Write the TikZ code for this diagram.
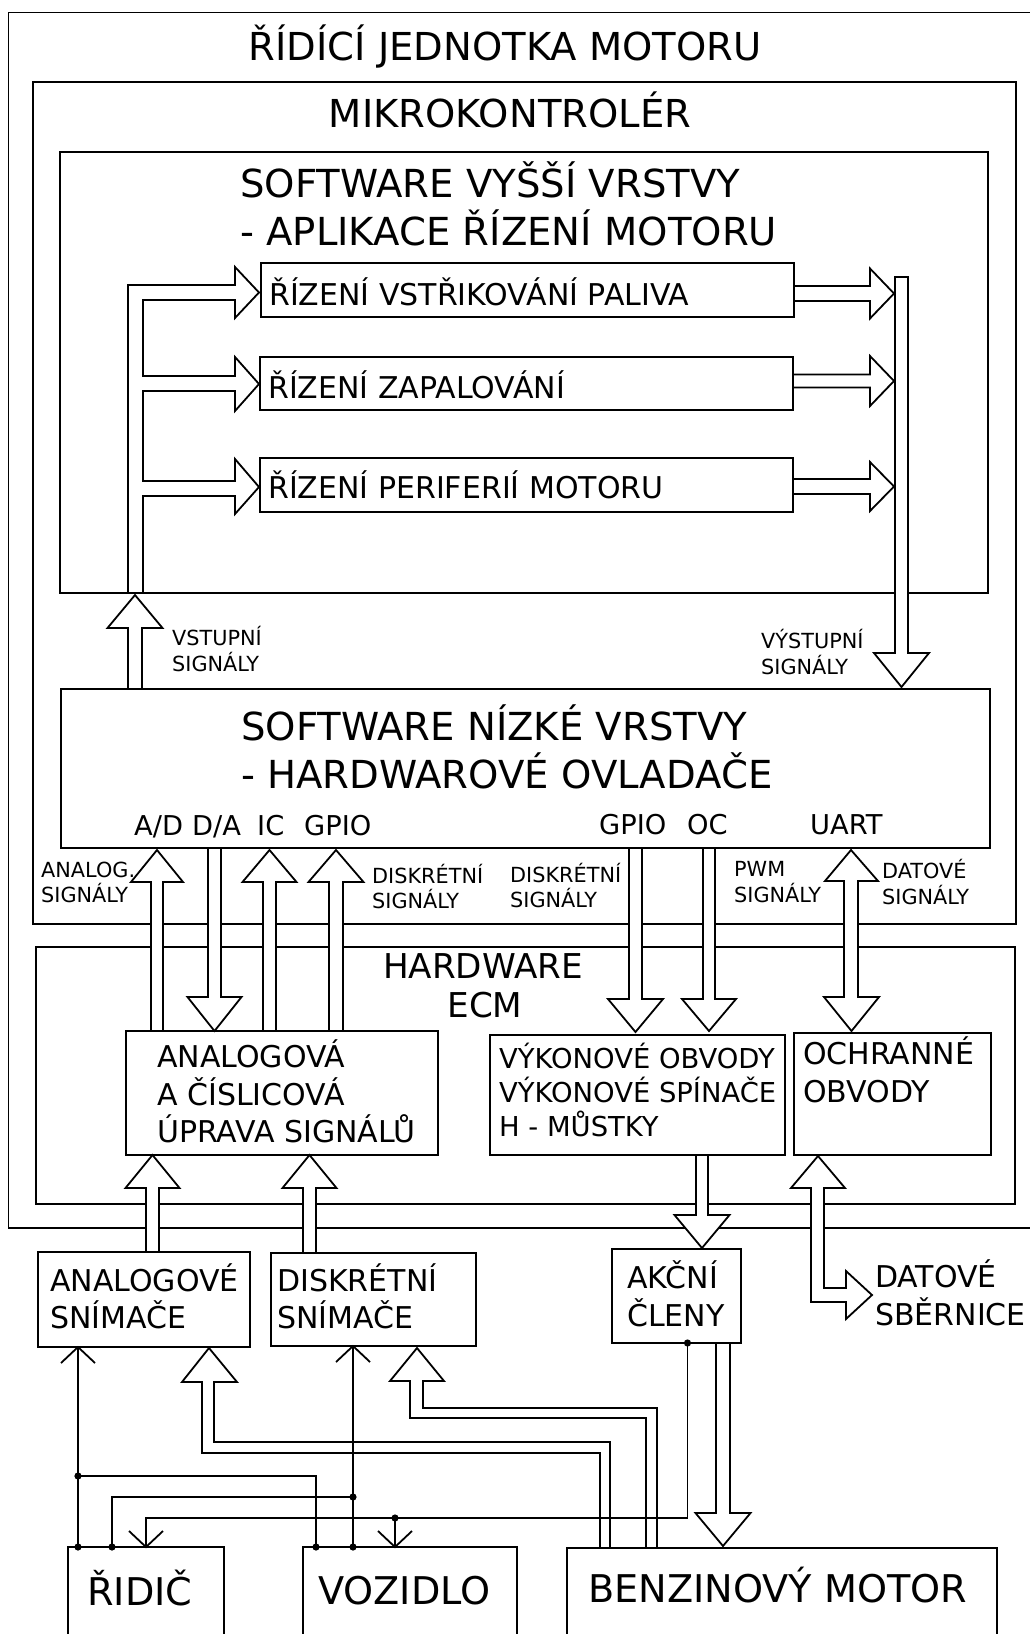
\documentclass[tikz,border=0pt]{standalone}
\usepackage{fontspec}
\setmainfont{DejaVu Sans}
\usetikzlibrary{fit}
\tikzset{
  box/.style={draw, line width=1.8pt, inner sep=0pt},
  frame/.style={draw, line width=1.8pt},
  harrow/.style={draw, fill=white, line width=1.8pt, line join=miter},
  bus/.style={draw, line width=1.8pt, line join=miter},
  wire/.style={draw, line width=1.8pt},
  ttl/.style={anchor=base, inner sep=0pt, font=\fontsize{38.5}{46}\selectfont},
  hdr/.style={anchor=base west, inner sep=0pt, font=\fontsize{38.6}{46}\selectfont},
  hwt/.style={anchor=base, inner sep=0pt, font=\fontsize{34.2}{40}\selectfont},
  blk/.style={anchor=base west, inner sep=0pt, font=\fontsize{30}{35}\selectfont},
  pwr/.style={anchor=base west, inner sep=0pt, font=\fontsize{27.4}{33}\selectfont},
  prt/.style={anchor=base west, inner sep=0pt, font=\fontsize{27.3}{30}\selectfont},
  sml/.style={anchor=base west, inner sep=0pt, font=\fontsize{20.8}{25}\selectfont},
  ext/.style={anchor=base west, inner sep=0pt, font=\fontsize{38.2}{45}\selectfont},
}
% vertical hollow arrow: x, tail y, tip y, shaft half width, head half width, head length
\newcommand\vharrow[6]{%
  \pgfmathsetmacro\hb{#3-#6*sign(#3-#2)}%
  \draw[harrow] (#1-#4,#2) -- (#1-#4,\hb) -- (#1-#5,\hb) -- (#1,#3) -- (#1+#5,\hb) -- (#1+#4,\hb) -- (#1+#4,#2);}
% horizontal hollow arrow: y, tail x, tip x, shaft half width, head half width, head length
\newcommand\hharrow[6]{%
  \pgfmathsetmacro\hb{#3-#6*sign(#3-#2)}%
  \draw[harrow] (#2,#1-#4) -- (\hb,#1-#4) -- (\hb,#1-#5) -- (#3,#1) -- (\hb,#1+#5) -- (\hb,#1+#4) -- (#2,#1+#4);}
% open V tip: tip x, tip y, direction (+1 = pointing up, -1 = pointing down)
\newcommand\vtip[3]{\draw[wire] (#1-17,#2+16*#3) -- (#1,#2) -- (#1+17,#2+16*#3);}
\newcommand\bx[5]{\node[box, fit={(#2,#3) (#4,#5)}] (#1) {};}
\begin{document}
\begin{tikzpicture}[x=1pt,y=-1pt]
\useasboundingbox (0,0) rectangle (1029,1634);

% ---- containers ----
\draw[frame] (1045,12.5) -- (8.5,12.5) -- (8.5,1228) -- (1045,1228);
\bx{mcu}{33}{82}{1016}{924}
\bx{hw}{36}{947}{1015}{1204}
\bx{swhi}{60}{152}{988}{593}

% ---- upper software buses ----
\draw[bus] (128,593) -- (128,285) -- (235,285) -- (235,267) -- (259,292.5) -- (235,318) -- (235,300)
  -- (143,300) -- (143,376) -- (235,376) -- (235,357) -- (259,384) -- (235,411) -- (235,391)
  -- (143,391) -- (143,481) -- (235,481) -- (235,459) -- (259,487) -- (235,514) -- (235,496)
  -- (143,496) -- (143,593);
\draw[harrow] (895,277) -- (908,277) -- (908,653) -- (929,653) -- (901.5,687) -- (874,653) -- (895,653) -- cycle;
\hharrow{293.5}{794}{894}{7.5}{25}{24}
\hharrow{381}{793}{894}{6.5}{25}{24}
\hharrow{486.5}{793}{894}{7.5}{24.5}{24}
\vharrow{135}{688}{595}{7}{27.5}{33}

% ---- port arrows ----
\vharrow{157}{1031}{850}{6}{26}{32}
\vharrow{214.5}{848}{1031}{6.5}{27}{34}
\vharrow{269.5}{1031}{850}{6.5}{27}{32}
\vharrow{336}{1031}{850}{7}{27.5}{32}
\vharrow{635.5}{848}{1032}{6.5}{27.5}{33}
\vharrow{709}{848}{1031}{6}{27}{32}
\draw[harrow] (844,881) -- (825,881) -- (851,850) -- (878,881) -- (858,881) -- (858,997) -- (879,997)
  -- (851.5,1031) -- (824,997) -- (844,997) -- cycle;

% ---- hardware / external arrows ----
\vharrow{152.5}{1252}{1155}{6.5}{27}{33}
\vharrow{309.5}{1253}{1155}{6.5}{27}{33}
\vharrow{702}{1155}{1248}{6}{27.5}{33}
\draw[harrow] (811,1188) -- (791,1188) -- (818,1156) -- (845,1188) -- (824,1188) -- (824,1288) -- (846,1288)
  -- (846,1271) -- (872,1295) -- (846,1319) -- (846,1302) -- (811,1302) -- cycle;
\vharrow{723}{1343}{1546}{7}{27.5}{33}
\draw[harrow] (610,1548) -- (610,1442) -- (214,1442) -- (214,1382) -- (237,1382) -- (209,1348)
  -- (182,1382) -- (202,1382) -- (202,1453) -- (600,1453) -- (600,1548);
\draw[harrow] (657,1548) -- (657,1408) -- (423,1408) -- (423,1381) -- (444,1381) -- (417,1348)
  -- (390,1381) -- (410,1381) -- (410,1418) -- (646,1418) -- (646,1548);

% ---- leaf boxes ----
\bx{fuel}{261}{263}{794}{317}
\bx{ign}{260}{357}{793}{410}
\bx{peri}{260}{458}{793}{512}
\bx{swlo}{61}{689}{990}{848}
\bx{adc}{126}{1031}{438}{1155}
\bx{pow}{490}{1035}{785}{1155}
\bx{prot}{794}{1033}{991}{1155}
\bx{act}{612}{1249}{741}{1343}
\bx{asen}{38}{1252}{250}{1347}
\bx{dsen}{271}{1253}{476}{1346}
\draw[frame] (68,1650) -- (68,1547) -- (224,1547) -- (224,1650);
\draw[frame] (303,1650) -- (303,1547) -- (517,1547) -- (517,1650);
\draw[frame] (567,1650) -- (567,1548) -- (997,1548) -- (997,1650);
\coordinate (ridic) at (146,1547);
\coordinate (vozidlo) at (410,1547);
\coordinate (motor) at (782,1548);

% ---- thin signal wires ----
\draw[wire] (78,1547) -- (78,1347);
\vtip{78}{1347}{1}
\draw[wire] (78,1476) -- (316,1476) -- (316,1547);
\draw[wire] (112,1547) -- (112,1497) -- (353,1497);
\draw[wire] (353,1547) -- (353,1346);
\vtip{353}{1346}{1}
\draw[wire] (687.5,1343) -- (687.5,1518) -- (146,1518) -- (ridic);
\vtip{146}{1547}{-1}
\draw[wire] (395,1518) -- (395,1547);
\vtip{395}{1547}{-1}
\foreach \p in {(78,1547),(78,1476),(112,1547),(316,1547),(353,1547),(353,1497),(395,1518),(687.5,1343)}
  \fill \p circle[radius=3.6pt];

% ---- texts ----
\node[ttl] (t-ecu) at (505,60) {ŘÍDÍCÍ JEDNOTKA MOTORU};
\node[ttl] (t-mcu) at (510,127) {MIKROKONTROLÉR};
\node[hdr] (t-hi1) at (240,197) {SOFTWARE VYŠŠÍ VRSTVY};
\node[hdr] (t-hi2) at (240,245) {- APLIKACE ŘÍZENÍ MOTORU};
\node[blk] (t-fuel) at (269,305) {ŘÍZENÍ VSTŘIKOVÁNÍ PALIVA};
\node[blk] (t-ign) at (268,398) {ŘÍZENÍ ZAPALOVÁNÍ};
\node[blk] (t-peri) at (268,498) {ŘÍZENÍ PERIFERIÍ MOTORU};
\node[sml] (t-in1) at (172,645) {VSTUPNÍ};
\node[sml] (t-in2) at (172,671) {SIGNÁLY};
\node[sml] (t-out1) at (761,648) {VÝSTUPNÍ};
\node[sml] (t-out2) at (761,674) {SIGNÁLY};
\node[hdr] (t-lo1) at (241,740) {SOFTWARE NÍZKÉ VRSTVY};
\node[hdr] (t-lo2) at (241,788) {- HARDWAROVÉ OVLADAČE};
\node[prt] (p-ad) at (134,835) {A/D};
\node[prt] (p-da) at (192,835) {D/A};
\node[prt] (p-ic) at (257,835) {IC};
\node[prt] (p-gpio1) at (304,835) {GPIO};
\node[prt] (p-gpio2) at (599,834) {GPIO};
\node[prt] (p-oc) at (687,834) {OC};
\node[prt] (p-uart) at (810,834) {UART};
\node[sml] (s-an1) at (41,877) {ANALOG.};
\node[sml] (s-an2) at (41,902) {SIGNÁLY};
\node[sml] (s-d1a) at (372,883) {DISKRÉTNÍ};
\node[sml] (s-d1b) at (372,908) {SIGNÁLY};
\node[sml] (s-d2a) at (510,882) {DISKRÉTNÍ};
\node[sml] (s-d2b) at (510,907) {SIGNÁLY};
\node[sml] (s-pwm1) at (734,876) {PWM};
\node[sml] (s-pwm2) at (734,902) {SIGNÁLY};
\node[sml] (s-dat1) at (882,878) {DATOVÉ};
\node[sml] (s-dat2) at (882,904) {SIGNÁLY};
\node[hwt] (t-hw1) at (483,978) {HARDWARE};
\node[hwt] (t-hw2) at (485,1017) {ECM};
\node[blk] (t-adc1) at (157,1067) {ANALOGOVÁ};
\node[blk] (t-adc2) at (157,1105) {A ČÍSLICOVÁ};
\node[blk] (t-adc3) at (157,1142) {ÚPRAVA SIGNÁLŮ};
\node[pwr] (t-pow1) at (499,1068) {VÝKONOVÉ OBVODY};
\node[pwr] (t-pow2) at (499,1102) {VÝKONOVÉ SPÍNAČE};
\node[pwr] (t-pow3) at (499,1136) {H - MŮSTKY};
\node[blk] (t-prot1) at (803,1064) {OCHRANNÉ};
\node[blk] (t-prot2) at (803,1102) {OBVODY};
\node[blk] (t-act1) at (627,1288) {AKČNÍ};
\node[blk] (t-act2) at (627,1326) {ČLENY};
\node[blk] (t-bus1) at (875,1287) {DATOVÉ};
\node[blk] (t-bus2) at (875,1325) {SBĚRNICE};
\node[blk] (t-as1) at (50,1291) {ANALOGOVÉ};
\node[blk] (t-as2) at (50,1328) {SNÍMAČE};
\node[blk] (t-ds1) at (277,1291) {DISKRÉTNÍ};
\node[blk] (t-ds2) at (277,1328) {SNÍMAČE};
\node[ext] (t-ridic) at (87,1605) {ŘIDIČ};
\node[ext] (t-voz) at (318,1604) {VOZIDLO};
\node[ext] (t-mot) at (588,1602) {BENZINOVÝ MOTOR};
\end{tikzpicture}
\end{document}
